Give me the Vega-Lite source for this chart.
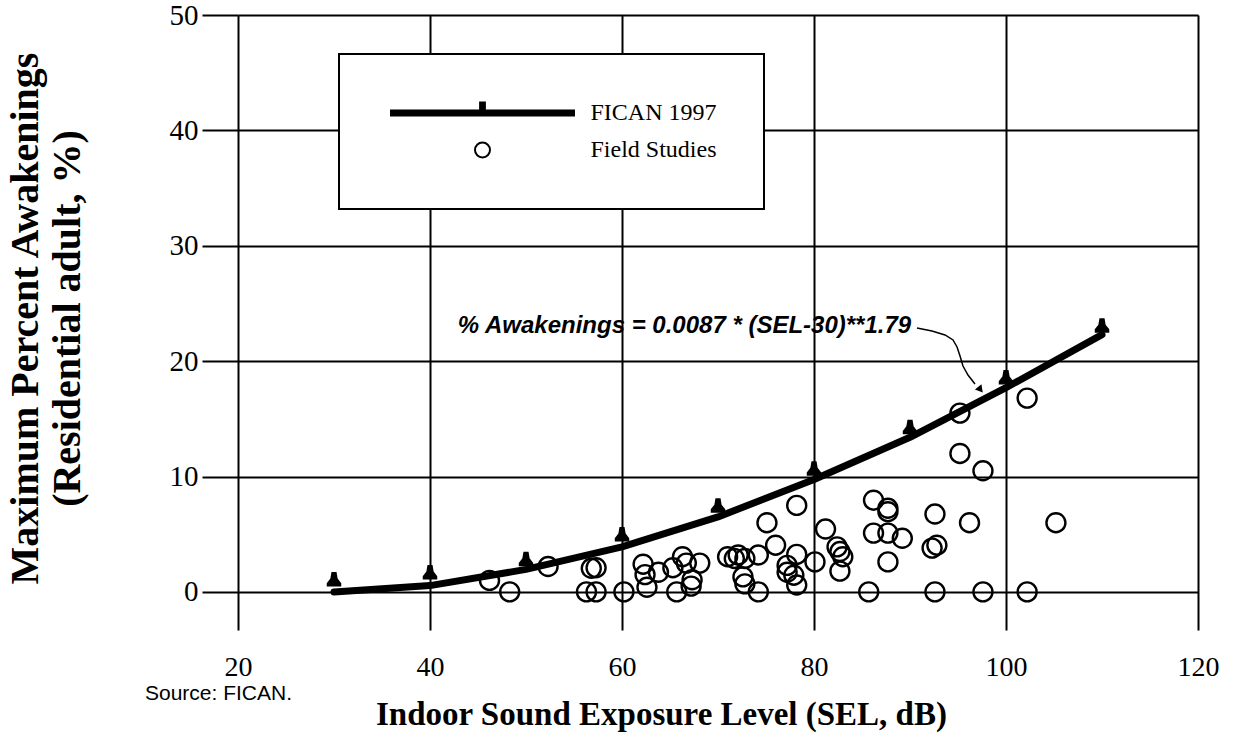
{
  "$schema": "https://vega.github.io/schema/vega-lite/v6.json",
  "width": 960,
  "height": 615,
  "autosize": {"type": "none"},
  "padding": {"left": 238, "top": 15, "right": 35, "bottom": 104},
  "background": "white",
  "config": {"view": {"stroke": null}},
  "datasets": {
    "curve": [
      {"x": 30, "y": 0}, {"x": 40, "y": 0.55}, {"x": 50, "y": 1.95}, {"x": 60, "y": 3.9},
      {"x": 70, "y": 6.5}, {"x": 80, "y": 9.75}, {"x": 90, "y": 13.4}, {"x": 100, "y": 17.7}, {"x": 110, "y": 22.3}
    ],
    "markers": [
      {"x": 30, "y": 1.1}, {"x": 40, "y": 1.7}, {"x": 50, "y": 2.85}, {"x": 60, "y": 5.0},
      {"x": 70, "y": 7.5}, {"x": 80, "y": 10.7}, {"x": 90, "y": 14.3}, {"x": 100, "y": 18.6}, {"x": 110, "y": 23.1}
    ],
    "field": [
      {"x": 46.2, "y": 1.0, "series": "Field Studies"}, {"x": 48.3, "y": 0, "series": "Field Studies"},
      {"x": 52.3, "y": 2.2, "series": "Field Studies"}, {"x": 56.8, "y": 2.05, "series": "Field Studies"},
      {"x": 57.3, "y": 2.1, "series": "Field Studies"}, {"x": 56.3, "y": 0, "series": "Field Studies"},
      {"x": 57.3, "y": 0, "series": "Field Studies"}, {"x": 60.2, "y": 0, "series": "Field Studies"},
      {"x": 62.2, "y": 2.4, "series": "Field Studies"}, {"x": 62.4, "y": 1.5, "series": "Field Studies"},
      {"x": 62.6, "y": 0.4, "series": "Field Studies"}, {"x": 63.8, "y": 1.7, "series": "Field Studies"},
      {"x": 65.3, "y": 2.1, "series": "Field Studies"}, {"x": 66.3, "y": 3.05, "series": "Field Studies"},
      {"x": 66.7, "y": 2.5, "series": "Field Studies"}, {"x": 68.1, "y": 2.5, "series": "Field Studies"},
      {"x": 65.7, "y": 0, "series": "Field Studies"}, {"x": 67.2, "y": 0.5, "series": "Field Studies"},
      {"x": 67.3, "y": 1.05, "series": "Field Studies"}, {"x": 71.0, "y": 3.05, "series": "Field Studies"},
      {"x": 71.7, "y": 2.9, "series": "Field Studies"}, {"x": 72.1, "y": 3.2, "series": "Field Studies"},
      {"x": 72.8, "y": 2.9, "series": "Field Studies"}, {"x": 74.2, "y": 3.2, "series": "Field Studies"},
      {"x": 72.6, "y": 1.3, "series": "Field Studies"}, {"x": 72.8, "y": 0.7, "series": "Field Studies"},
      {"x": 74.2, "y": 0, "series": "Field Studies"}, {"x": 75.1, "y": 6.0, "series": "Field Studies"},
      {"x": 76.0, "y": 4.05, "series": "Field Studies"}, {"x": 78.2, "y": 7.5, "series": "Field Studies"},
      {"x": 78.2, "y": 3.25, "series": "Field Studies"}, {"x": 77.2, "y": 2.3, "series": "Field Studies"},
      {"x": 77.2, "y": 1.7, "series": "Field Studies"}, {"x": 77.9, "y": 1.45, "series": "Field Studies"},
      {"x": 78.2, "y": 0.6, "series": "Field Studies"}, {"x": 80.1, "y": 2.6, "series": "Field Studies"},
      {"x": 81.2, "y": 5.45, "series": "Field Studies"}, {"x": 82.4, "y": 3.9, "series": "Field Studies"},
      {"x": 82.7, "y": 3.5, "series": "Field Studies"}, {"x": 83.0, "y": 3.05, "series": "Field Studies"},
      {"x": 82.7, "y": 1.8, "series": "Field Studies"}, {"x": 85.7, "y": 0, "series": "Field Studies"},
      {"x": 86.2, "y": 7.95, "series": "Field Studies"}, {"x": 87.7, "y": 7.25, "series": "Field Studies"},
      {"x": 87.7, "y": 6.95, "series": "Field Studies"}, {"x": 86.2, "y": 5.1, "series": "Field Studies"},
      {"x": 87.7, "y": 5.1, "series": "Field Studies"}, {"x": 89.2, "y": 4.65, "series": "Field Studies"},
      {"x": 87.7, "y": 2.6, "series": "Field Studies"}, {"x": 92.6, "y": 6.75, "series": "Field Studies"},
      {"x": 92.3, "y": 3.8, "series": "Field Studies"}, {"x": 92.8, "y": 4.05, "series": "Field Studies"},
      {"x": 92.6, "y": 0, "series": "Field Studies"}, {"x": 95.2, "y": 15.5, "series": "Field Studies"},
      {"x": 102.2, "y": 16.8, "series": "Field Studies"}, {"x": 95.2, "y": 12.0, "series": "Field Studies"},
      {"x": 97.6, "y": 10.5, "series": "Field Studies"}, {"x": 96.2, "y": 6.0, "series": "Field Studies"},
      {"x": 105.2, "y": 6.0, "series": "Field Studies"}, {"x": 97.6, "y": 0, "series": "Field Studies"},
      {"x": 102.2, "y": 0, "series": "Field Studies"}
    ],
    "arrow": [
      {"x": 90.73, "y": 22.88}, {"x": 92.29, "y": 22.62}, {"x": 93.65, "y": 22.27}, {"x": 94.48, "y": 21.84},
      {"x": 94.9, "y": 21.23}, {"x": 95.21, "y": 20.45}, {"x": 95.52, "y": 19.58}, {"x": 96.04, "y": 18.8},
      {"x": 96.77, "y": 18.02}
    ],
    "arrowhead": [{"x": 97.34, "y": 17.53}],
    "equation": [{"x": 42.9, "y": 22.45, "label": "% Awakenings = 0.0087 * (SEL-30)**1.79"}],
    "source": [{"x": 20, "y": -3.3, "label": "Source: FICAN."}]
  },
  "encoding": {
    "x": {
      "field": "x", "type": "quantitative",
      "scale": {"domain": [20, 120], "nice": false, "zero": false},
      "axis": {
        "title": "Indoor Sound Exposure Level (SEL, dB)",
        "values": [20, 40, 60, 80, 100, 120],
        "grid": true, "gridColor": "black", "gridWidth": 2, "gridOpacity": 1,
        "domain": false, "ticks": false, "labelFlush": false,
        "labelFont": "Liberation Serif", "labelFontSize": 28, "labelColor": "black", "labelPadding": 23,
        "titleFont": "Liberation Serif", "titleFontSize": 33, "titleFontWeight": "bold", "titleColor": "black",
        "titleX": 423, "titleY": 84, "titleBaseline": "middle"
      }
    },
    "y": {
      "field": "y", "type": "quantitative",
      "scale": {"domain": [-3.3, 50], "nice": false, "zero": false},
      "axis": {
        "title": ["Maximum Percent Awakenings", "(Residential adult, %)"],
        "values": [0, 10, 20, 30, 40, 50],
        "grid": true, "gridColor": "black", "gridWidth": 2, "gridOpacity": 1,
        "domain": false, "ticks": true, "tickSize": 36, "tickWidth": 2, "tickColor": "black", "labelFlush": false,
        "labelFont": "Liberation Serif", "labelFontSize": 29, "labelColor": "black", "labelPadding": 4,
        "titleFont": "Liberation Serif", "titleFontSize": 40, "titleFontWeight": "bold", "titleColor": "black",
        "titleLineHeight": 42, "titleX": -213, "titleY": 303, "titleBaseline": "middle", "titleAngle": 270
      }
    }
  },
  "layer": [
    {
      "data": {"name": "curve"},
      "mark": {"type": "line", "color": "black", "strokeWidth": 7, "strokeCap": "round", "strokeJoin": "round"}
    },
    {
      "data": {"name": "markers"},
      "mark": {"type": "point", "filled": true, "color": "black", "opacity": 1, "size": 210,
               "shape": "M-0.35,-1H0.35L0.5,-0.1L1,0.55V1H-1V0.55L-0.5,-0.1Z"}
    },
    {
      "data": {"name": "arrow"},
      "mark": {"type": "line", "color": "black", "strokeWidth": 1.5}
    },
    {
      "data": {"name": "arrowhead"},
      "mark": {"type": "point", "filled": true, "color": "black", "opacity": 1, "size": 70, "shape": "triangle-down", "angle": -39}
    },
    {
      "data": {"name": "field"},
      "mark": {"type": "point", "filled": true, "stroke": "black", "strokeWidth": 2.4, "size": 361, "opacity": 1},
      "encoding": {
        "shape": {
          "field": "series", "type": "nominal",
          "scale": {"domain": ["FICAN 1997", "Field Studies"],
                    "range": ["M-12.2,-0.32H-0.32V-1.4H0.32V-0.32H12.2V0.32H-12.2Z", "circle"]},
          "legend": {
            "title": null, "orient": "none", "legendX": 101, "legendY": 39, "padding": 47,
            "strokeColor": "black", "fillColor": "white",
            "symbolSize": 225, "symbolStrokeWidth": 2, "symbolStrokeColor": "black", "symbolOpacity": 1,
            "symbolOffset": 84.5, "labelOffset": 96, "rowPadding": 13,
            "labelFont": "Liberation Serif", "labelFontSize": 24, "labelColor": "black", "labelLimit": 0,
            "labelExpr": "datum.label + '\u00a0\u00a0\u00a0\u00a0\u00a0\u00a0\u00a0\u00a0\u00a0\u00a0'",
            "encode": {"legend": {"update": {"strokeWidth": {"value": 2}}}}
          }
        },
        "fill": {
          "field": "series", "type": "nominal",
          "scale": {"domain": ["FICAN 1997", "Field Studies"], "range": ["black", "transparent"]},
          "legend": {
            "title": null, "orient": "none", "legendX": 101, "legendY": 39, "padding": 47,
            "strokeColor": "black", "fillColor": "white",
            "symbolSize": 225, "symbolStrokeWidth": 2, "symbolStrokeColor": "black", "symbolOpacity": 1,
            "symbolOffset": 84.5, "labelOffset": 96, "rowPadding": 13,
            "labelFont": "Liberation Serif", "labelFontSize": 24, "labelColor": "black", "labelLimit": 0,
            "labelExpr": "datum.label + '\u00a0\u00a0\u00a0\u00a0\u00a0\u00a0\u00a0\u00a0\u00a0\u00a0'",
            "encode": {"legend": {"update": {"strokeWidth": {"value": 2}}}}
          }
        }
      }
    },
    {
      "data": {"name": "equation"},
      "mark": {"type": "text", "font": "Liberation Sans", "fontSize": 24, "fontWeight": "bold", "fontStyle": "italic",
               "align": "left", "baseline": "alphabetic", "color": "black"},
      "encoding": {"text": {"field": "label", "type": "nominal"}}
    },
    {
      "data": {"name": "source"},
      "mark": {"type": "text", "font": "Liberation Sans", "fontSize": 21,
               "align": "left", "baseline": "middle", "color": "black", "dx": -93, "dy": 64},
      "encoding": {"text": {"field": "label", "type": "nominal"}}
    }
  ]
}
